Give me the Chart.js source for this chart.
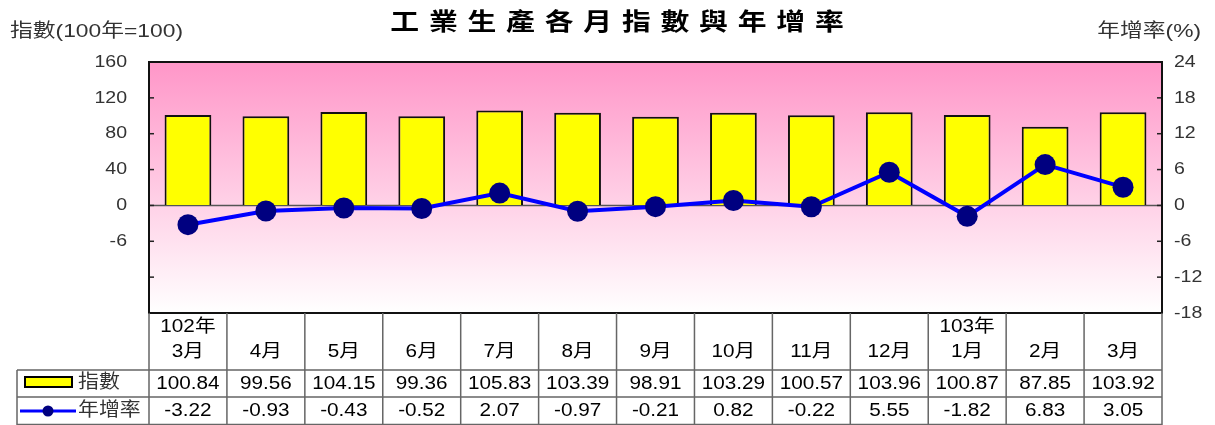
<!DOCTYPE html>
<html>
<head>
<meta charset="utf-8">
<script src="https://cdn.jsdelivr.net/npm/chart.js@4"></script>
<style>
  body { margin: 0; background: #fff; }
</style>
</head>
<body>
<canvas id="myChart" width="1215" height="425"></canvas>
<script>
  // data
  var categories = [['102年', '3月'], '4月', '5月', '6月', '7月', '8月', '9月', '10月', '11月', '12月', ['103年', '1月'], '2月', '3月'];
  var indexValues = [100.84, 99.56, 104.15, 99.36, 105.83, 103.39, 98.91, 103.29, 100.57, 103.96, 100.87, 87.85, 103.92];
  var growthValues = [-3.22, -0.93, -0.43, -0.52, 2.07, -0.97, -0.21, 0.82, -0.22, 5.55, -1.82, 6.83, 3.05];
  // left axis labels as printed (the original shows "-6" under the zero line)
  var leftTickLabels = { '160': '160', '120': '120', '80': '80', '40': '40', '0': '0', '-40': '-6' };
  var rightTicks = [24, 18, 12, 6, 0, -6, -12, -18];

  var LATIN = '"Liberation Sans", "Noto Sans CJK TC", sans-serif';
  var SX = 1.15; // the original text is a bit wide

  // text drawn with a horizontal stretch
  function wideText(c, str, x, y, align, sx) {
    c.save();
    c.translate(x, y);
    c.scale(sx || SX, 1);
    c.textAlign = align;
    c.fillText(str, 0, 0);
    c.restore();
  }

  var chartDeco = {
    id: 'chartDeco',
    beforeDatasetsDraw: function (chart) {
      var c = chart.ctx, a = chart.chartArea;
      var g = c.createLinearGradient(0, a.top, 0, a.bottom);
      g.addColorStop(0, '#ff96c8');
      g.addColorStop(1, '#ffffff');
      c.save();
      c.fillStyle = g;
      c.fillRect(a.left, a.top, a.right - a.left, a.bottom - a.top);
      // zero line
      var y0 = chart.scales.y.getPixelForValue(0);
      c.strokeStyle = '#555';
      c.lineWidth = 1.5;
      c.beginPath(); c.moveTo(a.left, y0); c.lineTo(a.right, y0); c.stroke();
      // small tick marks inside the plot
      c.strokeStyle = '#222';
      c.lineWidth = 1.5;
      chart.scales.y.ticks.forEach(function (t) {
        var y = chart.scales.y.getPixelForValue(t.value);
        c.beginPath(); c.moveTo(a.left, y); c.lineTo(a.left + 5, y); c.stroke();
      });
      chart.scales.y1.ticks.forEach(function (t) {
        var y = chart.scales.y1.getPixelForValue(t.value);
        c.beginPath(); c.moveTo(a.right - 5, y); c.lineTo(a.right, y); c.stroke();
      });
      c.restore();
    },
    afterDraw: function (chart) {
      var c = chart.ctx, a = chart.chartArea, x = chart.scales.x;
      var n = categories.length;
      var colW = (a.right - a.left) / n;
      var rowHead = 370, row1 = 397, row2 = 425;
      c.save();
      // plot frame
      c.strokeStyle = '#111';
      c.lineWidth = 2;
      c.strokeRect(a.left, a.top, a.right - a.left, a.bottom - a.top);

      c.textBaseline = 'middle';
      // axis tick labels
      c.fillStyle = '#333';
      c.font = '17px ' + LATIN;
      chart.scales.y.ticks.forEach(function (t) {
        var lbl = leftTickLabels[String(t.value)];
        if (lbl) wideText(c, lbl, 127, chart.scales.y.getPixelForValue(t.value), 'right');
      });
      chart.scales.y1.ticks.forEach(function (t) {
        if (rightTicks.indexOf(t.value) >= 0) wideText(c, String(t.value), 1174, chart.scales.y1.getPixelForValue(t.value), 'left');
      });

      // titles
      c.fillStyle = '#000';
      c.font = 'bold 24px "Noto Sans CJK TC", sans-serif';
      var title = '工業生產各月指數與年增率';
      var step = 38.6, startX = 617 - step * (title.length - 1) / 2;
      for (var i = 0; i < title.length; i++) wideText(c, title[i], startX + i * step, 21, 'center', 1.2);
      c.fillStyle = '#333';
      c.font = '19px ' + LATIN;
      wideText(c, '指數(100年=100)', 10, 32, 'left', 1.2);
      wideText(c, '年增率(%)', 1201, 32, 'right', 1.2);

      // data table grid
      c.strokeStyle = '#666';
      c.lineWidth = 1.5;
      c.beginPath();
      for (var k = 0; k <= n; k++) {
        var bx = a.left + k * colW;
        c.moveTo(bx, a.bottom); c.lineTo(bx, row2);
      }
      c.moveTo(17, rowHead); c.lineTo(a.right, rowHead);
      c.moveTo(17, row1); c.lineTo(a.right, row1);
      c.moveTo(17, row2 - 0.5); c.lineTo(a.right, row2 - 0.5);
      c.moveTo(17, rowHead); c.lineTo(17, row2);
      c.stroke();

      // table text
      c.fillStyle = '#000';
      c.font = '18px ' + LATIN;
      for (var j = 0; j < n; j++) {
        var cx = x.getPixelForValue(j);
        var cat = categories[j];
        if (Array.isArray(cat)) {
          wideText(c, cat[0], cx, 327, 'center');
          wideText(c, cat[1], cx, 352, 'center');
        } else {
          wideText(c, cat, cx, 352, 'center');
        }
        wideText(c, indexValues[j].toFixed(2), cx, 384, 'center');
        wideText(c, growthValues[j].toFixed(2), cx, 411, 'center');
      }

      // legend cells
      c.fillStyle = '#ffff00';
      c.fillRect(25, 377, 47, 10);
      c.strokeStyle = '#000';
      c.lineWidth = 2;
      c.strokeRect(25, 377, 47, 10);
      c.strokeStyle = '#0000ff';
      c.lineWidth = 3;
      c.beginPath(); c.moveTo(20, 411); c.lineTo(76, 411); c.stroke();
      c.fillStyle = '#000080';
      c.beginPath(); c.arc(48, 411, 5.5, 0, Math.PI * 2); c.fill();
      c.fillStyle = '#333';
      c.font = '19px ' + LATIN;
      wideText(c, '指數', 78, 383, 'left', 1.1);
      wideText(c, '年增率', 78, 411, 'left', 1.1);
      c.restore();
    }
  };

  var ctx = document.getElementById('myChart').getContext('2d');
  var myChart = new Chart(ctx, {
    type: 'bar',
    data: {
      labels: categories,
      datasets: [{
        type: 'line',
        label: '年增率',
        data: growthValues,
        yAxisID: 'y1',
        borderColor: '#0000ff',
        borderWidth: 4,
        pointRadius: 10.5,
        pointBackgroundColor: '#000080',
        pointBorderColor: '#000080',
        pointBorderWidth: 0,
        tension: 0,
        order: 0
      }, {
        label: '指數',
        data: indexValues,
        yAxisID: 'y',
        backgroundColor: '#ffff00',
        borderColor: '#111',
        borderWidth: 2,
        barPercentage: 0.6,
        categoryPercentage: 1,
        order: 1
      }]
    },
    options: {
      responsive: false,
      animation: false,
      layout: { padding: { top: 62, bottom: 112, left: 0, right: 0 } },
      plugins: {
        legend: { display: false },
        tooltip: { enabled: false }
      },
      scales: {
        x: { display: false },
        y: {
          position: 'left',
          min: -120, max: 160,
          afterFit: function (s) { s.width = 149; },
          grid: { drawOnChartArea: false, drawTicks: false },
          border: { display: false },
          ticks: { stepSize: 40, display: false }
        },
        y1: {
          position: 'right',
          min: -18, max: 24,
          afterFit: function (s) { s.width = 53; },
          grid: { drawOnChartArea: false, drawTicks: false },
          border: { display: false },
          ticks: { stepSize: 6, display: false }
        }
      }
    },
    plugins: [chartDeco]
  });
</script>
</body>
</html>
